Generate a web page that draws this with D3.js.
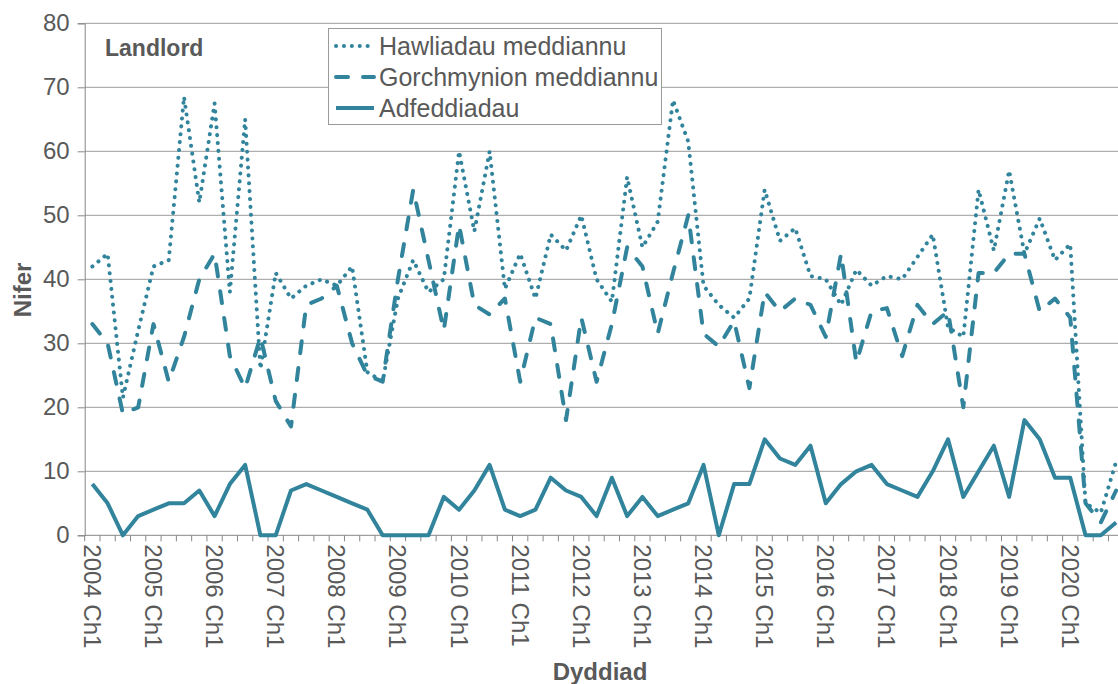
<!DOCTYPE html>
<html>
<head>
<meta charset="utf-8">
<script src="https://cdn.jsdelivr.net/npm/d3@7"></script>
<style>
  html, body { margin: 0; padding: 0; background: #ffffff; }
  svg { display: block; }
  text { font-family: "Liberation Sans", Arial, sans-serif; fill: #595959; }
</style>
</head>
<body>
<svg id="chart" width="1118" height="684"></svg>
<script>
// ---- DATA ----
const years = d3.range(2004, 2021);
const quarters = ["Ch1", "Ch2", "Ch3", "Ch4"];
const categories = [];
years.forEach(yr => quarters.forEach(q => categories.push(yr + " " + q)));

const tickLabels = ["2004 Ch1","2005 Ch1","2006 Ch1","2007 Ch1","2008 Ch1","2009 Ch1","2010 Ch1","2011 Ch1",
  "2012 Ch1","2013 Ch1","2014 Ch1","2015 Ch1","2016 Ch1","2017 Ch1","2018 Ch1","2019 Ch1","2020 Ch1"];

const yTicks = [0, 10, 20, 30, 40, 50, 60, 70, 80];

const hawliadau = [42, 44, 21.5, 32, 42, 43, 68.5, 52, 67.5, 38,
  65, 26, 41, 37, 39, 40, 39, 42, 25.5, 24,
  37, 43, 38, 40, 60, 47.5, 60, 38.5, 44, 37,
  47, 44.5, 50, 40, 36.5, 56, 45, 49, 68, 61.5,
  39, 36, 34, 37, 54, 46, 48, 40.5, 40, 36,
  41.5, 39, 40.5, 40, 43.5, 47, 32.5, 31, 54, 44.5,
  57, 44, 49.5, 43, 45.5, 5, 3.5, 11.5];

const gorchmynion = [33, 30, 19, 20, 33, 24, 31, 40, 44, 28,
  23, 31, 21, 17, 36, 37, 39, 30, 25, 24,
  40, 54, 43, 32, 48.5, 36, 34.5, 37, 24, 34,
  33, 18, 34, 24, 33, 45, 42, 31.5, 41, 50,
  31.5, 29.5, 33.5, 23, 38, 35, 37, 36, 31, 44,
  27, 35, 35.5, 28, 36, 33, 35, 20, 41, 41,
  44, 44, 35, 37, 34, 5, 2, 7];

const adfeddiadau = [8, 5, 0, 3, 4, 5, 5, 7, 3, 8,
  11, 0, 0, 7, 8, 7, 6, 5, 4, 0,
  0, 0, 0, 6, 4, 7, 11, 4, 3, 4,
  9, 7, 6, 3, 9, 3, 6, 3, 4, 5,
  11, 0, 8, 8, 15, 12, 11, 14, 5, 8,
  10, 11, 8, 7, 6, 10, 15, 6, 10, 14,
  6, 18, 15, 9, 9, 0, 0, 2];

const seriesNames = ["Hawliadau meddiannu", "Gorchmynion meddiannu", "Adfeddiadau"];

// ---- LAYOUT ----
const color = "#31849B";
const svg = d3.select("#chart");
const plotLeft = 84.7, plotTop = 23.3, plotBottom = 535.3;
const catW = 15.28;
const x = d3.scaleBand().domain(d3.range(categories.length))
  .range([plotLeft, plotLeft + categories.length * catW]).padding(0);
const y = d3.scaleLinear().domain([0, 80]).range([plotBottom, plotTop]);
const cx = i => x(i) + x.bandwidth() / 2;

// gridlines
svg.append("g").selectAll("line").data(yTicks.filter(t => t > 0)).join("line")
  .attr("x1", plotLeft).attr("x2", 1118)
  .attr("y1", d => y(d)).attr("y2", d => y(d))
  .attr("stroke", "#9a9a9a").attr("stroke-width", 1);

// y axis
const yAxis = d3.axisLeft(y).tickValues(yTicks).tickSize(7).tickPadding(8).tickFormat(d3.format("d"));
const gy = svg.append("g").attr("transform", `translate(${plotLeft},0)`).call(yAxis);
gy.select(".domain").attr("stroke", "#868686");
gy.selectAll(".tick line").attr("stroke", "#868686");
gy.selectAll(".tick text").attr("font-size", 24).attr("fill", "#595959")
  .attr("font-family", "Liberation Sans, Arial, sans-serif");

// x axis (ticks at category boundaries)
const boundaries = d3.range(categories.length + 1).map(i => plotLeft + i * catW);
const gx = svg.append("g");
gx.append("line").attr("x1", plotLeft).attr("x2", 1118).attr("y1", plotBottom).attr("y2", plotBottom)
  .attr("stroke", "#868686").attr("stroke-width", 1);
gx.selectAll("line.tk").data(boundaries).join("line").attr("class", "tk")
  .attr("x1", d => d).attr("x2", d => d).attr("y1", plotBottom).attr("y2", plotBottom + 6)
  .attr("stroke", "#868686").attr("stroke-width", 1);

const labelIdx = tickLabels.map(l => categories.indexOf(l));
gx.selectAll("text").data(tickLabels).join("text")
  .attr("transform", (d, k) => `translate(${cx(labelIdx[k])},${plotBottom + 9}) rotate(90)`)
  .attr("text-anchor", "start").attr("dominant-baseline", "central")
  .attr("font-size", 24).text(d => d);

// lines
const dotDash = "0.1 7.8", longDash = "12 15";
const line = d3.line().x((d, i) => cx(i)).y(d => y(d));
svg.append("path").datum(hawliadau).attr("d", line)
  .attr("fill", "none").attr("stroke", color).attr("stroke-width", 4)
  .attr("stroke-linecap", "round").attr("stroke-linejoin", "round")
  .attr("stroke-dasharray", dotDash);
svg.append("path").datum(gorchmynion).attr("d", line)
  .attr("fill", "none").attr("stroke", color).attr("stroke-width", 4)
  .attr("stroke-linecap", "round").attr("stroke-linejoin", "round")
  .attr("stroke-dasharray", longDash);
svg.append("path").datum(adfeddiadau).attr("d", line)
  .attr("fill", "none").attr("stroke", color).attr("stroke-width", 4)
  .attr("stroke-linejoin", "round");

// title
svg.append("text").attr("x", 105).attr("y", 48).attr("dominant-baseline", "central")
  .attr("font-size", 23).attr("font-weight", "bold").text("Landlord");

// axis titles
svg.append("text").attr("transform", "translate(22,290) rotate(-90)")
  .attr("text-anchor", "middle").attr("dominant-baseline", "central")
  .attr("font-size", 24).attr("font-weight", "bold").text("Nifer");
svg.append("text").attr("x", 600).attr("y", 671).attr("text-anchor", "middle")
  .attr("dominant-baseline", "central")
  .attr("font-size", 24).attr("font-weight", "bold").text("Dyddiad");

// legend
const lg = svg.append("g");
lg.append("rect").attr("x", 328.5).attr("y", 28.5).attr("width", 333).attr("height", 96)
  .attr("fill", "#ffffff").attr("stroke", "#9a9a9a").attr("stroke-width", 1);
const dashes = [dotDash, longDash, null];
seriesNames.forEach((n, k) => {
  const yy = 46 + k * 31;
  const l = lg.append("line").attr("x1", 336).attr("x2", 374).attr("y1", yy).attr("y2", yy)
    .attr("stroke", color).attr("stroke-width", 4).attr("stroke-linecap", k < 2 ? "round" : "butt");
  if (dashes[k]) l.attr("stroke-dasharray", dashes[k]);
  lg.append("text").attr("x", 379).attr("y", yy).attr("dominant-baseline", "central")
    .attr("font-size", 25).text(n);
});
</script>
</body>
</html>
